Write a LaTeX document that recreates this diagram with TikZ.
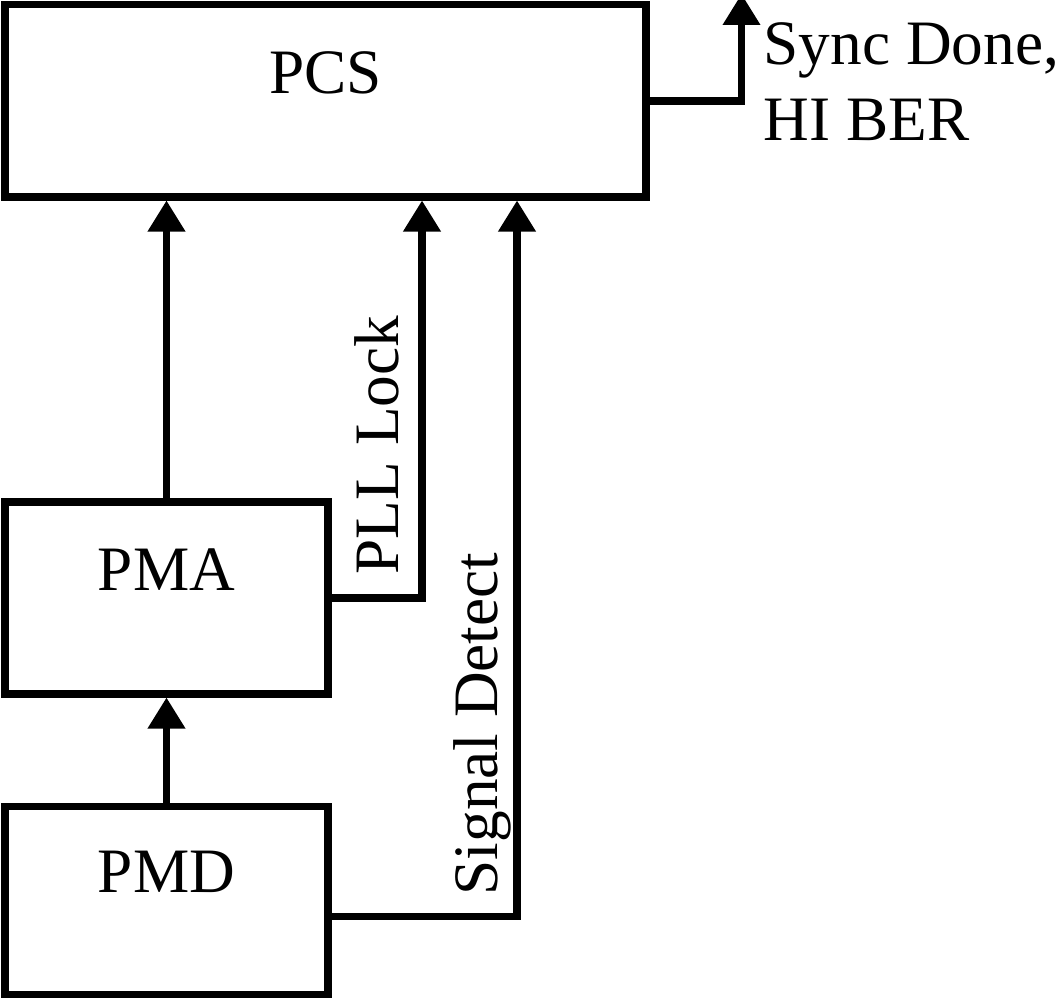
\documentclass[tikz,border=0pt]{standalone}
\usepackage{fontspec}
\setmainfont{Liberation Serif}
\usetikzlibrary{arrows.meta}

\begin{document}
\begin{tikzpicture}[
    layer/.style={draw,line width=2pt,minimum width=3.23cm,minimum height=1.92cm,
        text height=0.45cm,text depth=0.6cm,font=\fontsize{18pt}{21.5pt}\selectfont},
    flow/.style={-{Triangle[length=0.31cm,width=0.36cm]},draw,line width=2pt},
    signal/.style={rotate=90,anchor=base west,inner sep=0pt,
        font=\fontsize{18pt}{21.5pt}\selectfont}
]
    \useasboundingbox (0,0) rectangle (10.57,9.99);
    \node[layer,minimum width=6.41cm] (pcs) at (3.255,8.98) {PCS};
    \node[layer] (pma) at (1.665,4.01) {PMA};
    \node[layer,minimum height=1.88cm] (pmd) at (1.665,0.985) {PMD};
    \coordinate (pll) at (4.22,0);
    \coordinate (sd) at (5.17,0);
    \coordinate (sync) at (7.415,10.05);
    \draw[flow] (pmd) -- (pma);
    \draw[flow] (pma) -- (pma.north |- pcs.south);
    \draw[flow] (pma.east) -| (pll |- pcs.south);
    \draw[flow] ([yshift=-0.16cm]pmd.east) -| (sd |- pcs.south);
    \draw[flow] (pcs.east) -| (sync);
    \node[signal] (plltext) at (3.98,4.24) {PLL Lock};
    \node[signal] (sdtext) at (4.97,1.03) {Signal Detect};
    \node[anchor=north west,inner sep=0pt,align=left,
        font=\fontsize{18pt}{21.5pt}\selectfont] (status) at (7.63,9.77)
        {Sync Done,\\HI BER};
\end{tikzpicture}
\end{document}
